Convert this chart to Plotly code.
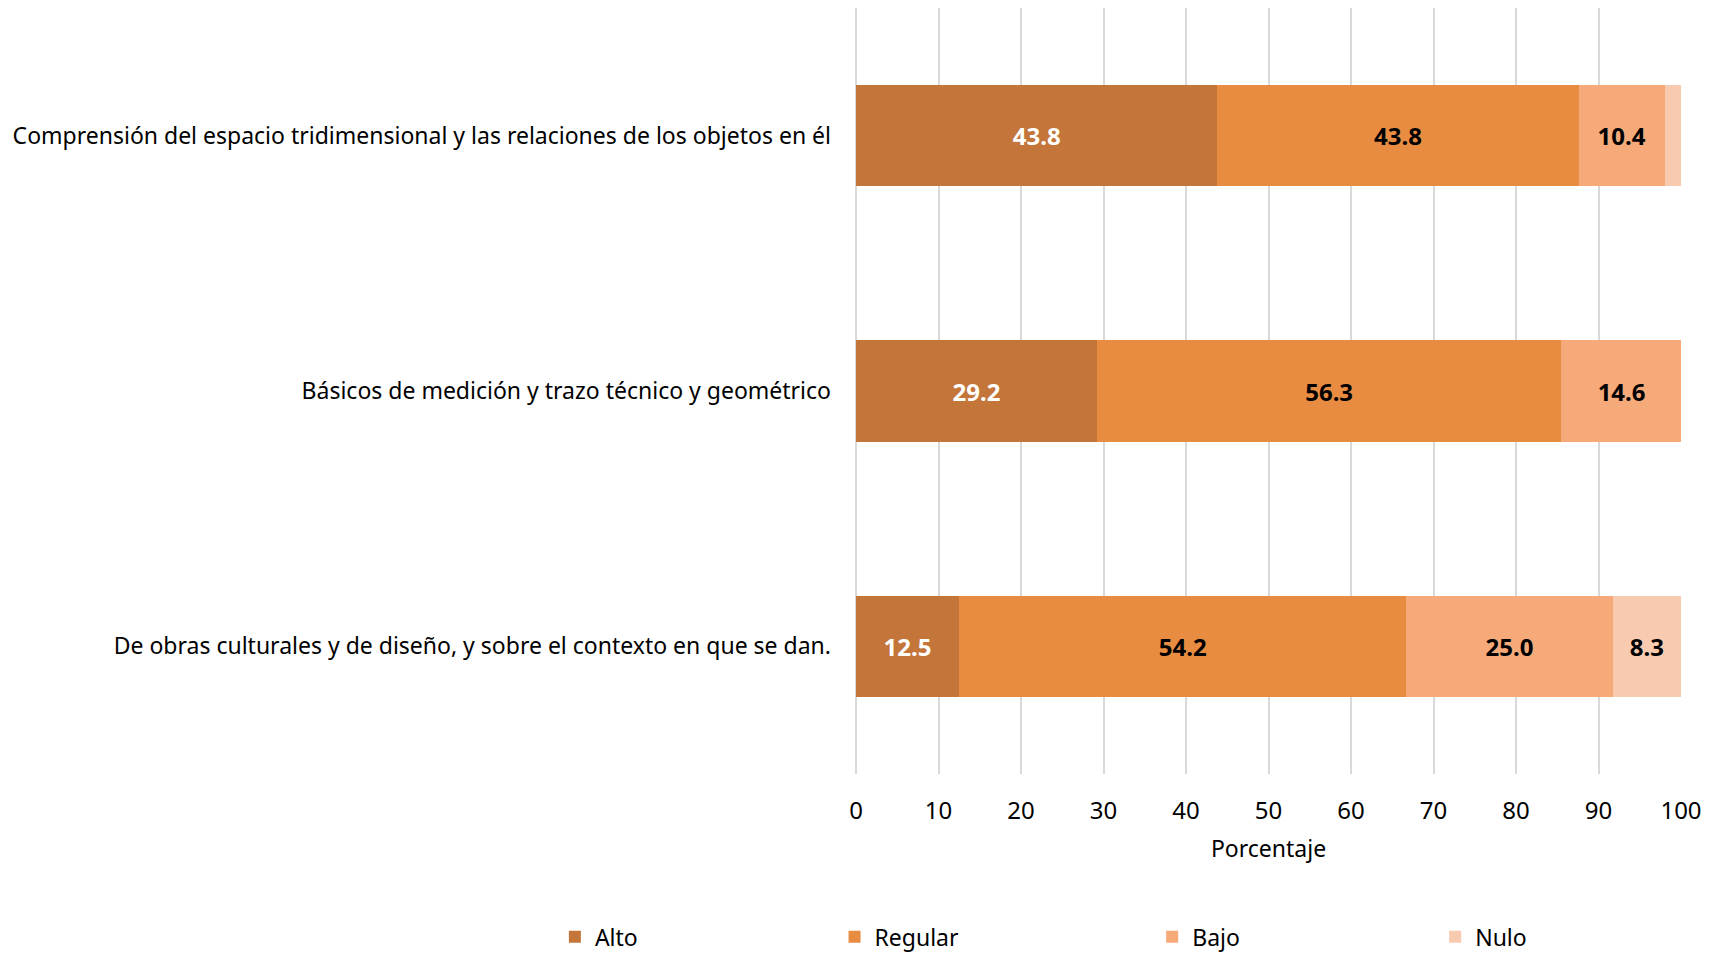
import plotly.graph_objects as go

categories = [
    "Comprensión del espacio tridimensional y las relaciones de los objetos en él",
    "Básicos de medición y trazo técnico y geométrico",
    "De obras culturales y de diseño, y sobre el contexto en que se dan.",
]
alto = [43.8, 29.2, 12.5]
regular = [43.8, 56.3, 54.2]
bajo = [10.4, 14.6, 25.0]
nulo = [2.0, 0.0, 8.3]

series = [
    ("Alto", alto, "#C4763A", "white"),
    ("Regular", regular, "#E88C42", "black"),
    ("Bajo", bajo, "#F6AA79", "black"),
    ("Nulo", nulo, "#F8CBB1", "black"),
]
legend_ids = ["legend", "legend2", "legend3", "legend4"]
legend_x = [-0.365, -0.026, 0.359, 0.702]

FONT = "Noto Sans"
fig = go.Figure()
for (name, vals, color, tcol), lid in zip(series, legend_ids):
    fig.add_trace(go.Bar(
        y=categories, x=vals, name=name, orientation="h",
        marker=dict(color=color, line=dict(width=0)),
        text=[f"{v:.1f}" if v >= 5 else "" for v in vals],
        textposition="inside", insidetextanchor="middle",
        textfont=dict(family=FONT, size=24, color=tcol, weight="bold"),
        textangle=0, legend=lid,
    ))

leg_common = dict(orientation="h", xanchor="left", y=-0.2125, yanchor="middle",
                  font=dict(family=FONT, size=23), bgcolor="rgba(0,0,0,0)")
legends = {lid: dict(x=lx, **leg_common) for lid, lx in zip(legend_ids, legend_x)}

fig.update_layout(
    barmode="stack", bargap=0.604,
    width=1719, height=954,
    paper_bgcolor="white", plot_bgcolor="white",
    margin=dict(l=848, r=46, t=0, b=188, autoexpand=False),
    font=dict(family=FONT, size=23, color="black"),
    showlegend=True,
    uniformtext=dict(mode="show", minsize=10),
    **legends,
)
fig.update_xaxes(range=[0, 100], dtick=10, showgrid=True, gridcolor="#D9D9D9", gridwidth=2,
                 zeroline=True, zerolinecolor="#D9D9D9", zerolinewidth=2,
                 showline=False, ticks="", ticklabelstandoff=20,
                 tickfont=dict(family=FONT, size=24),
                 title=dict(text="Porcentaje", font=dict(family=FONT, size=23), standoff=15))
fig.update_yaxes(autorange="reversed", showgrid=False, showline=False, ticks="",
                 tickfont=dict(family=FONT, size=23), ticklabelstandoff=24)

fig.write_html("out.html")
